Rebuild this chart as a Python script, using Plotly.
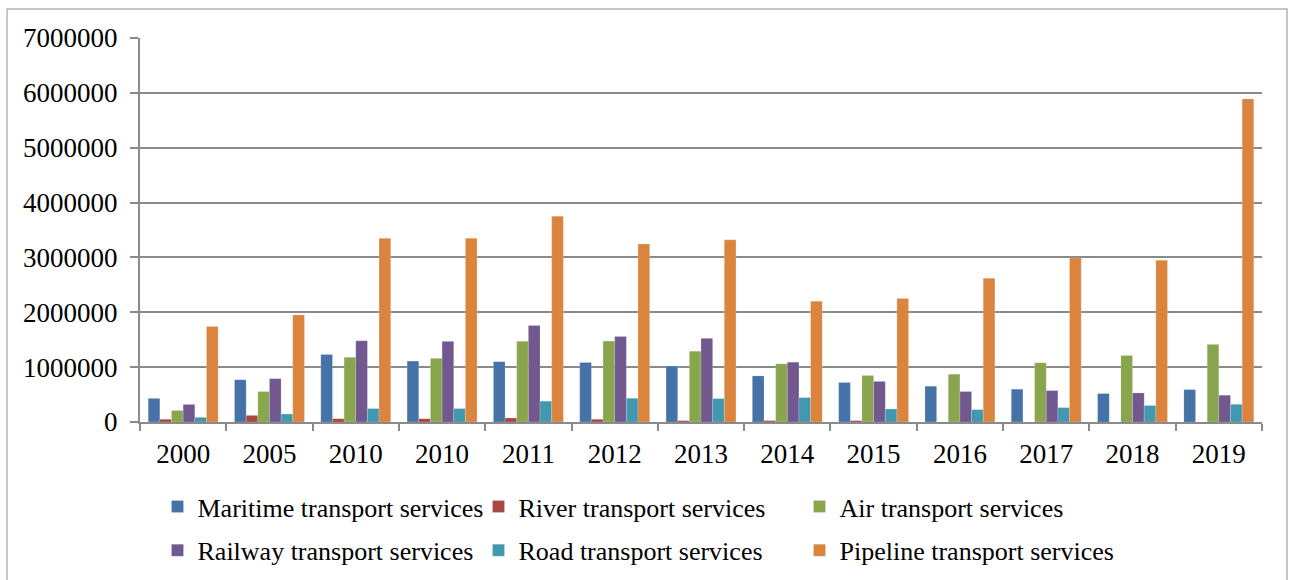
import plotly.graph_objects as go

# Years along the category axis (2010 appears twice in the source table)
years = ["2000", "2005", "2010", "2010", "2011", "2012", "2013",
         "2014", "2015", "2016", "2017", "2018", "2019"]

maritime = [430000, 770000, 1230000, 1110000, 1100000, 1085000, 1020000,
            840000, 720000, 652000, 598000, 518000, 591000]
river = [50000, 120000, 60000, 60000, 73000, 50000, 25000,
         25000, 25000, 0, 0, 0, 0]
air = [210000, 555000, 1180000, 1160000, 1470000, 1475000, 1290000,
       1060000, 848000, 872000, 1080000, 1213000, 1415000]
railway = [320000, 790000, 1480000, 1470000, 1760000, 1560000, 1525000,
           1090000, 740000, 555000, 573000, 530000, 488000]
road = [85000, 146000, 245000, 245000, 380000, 433000, 427000,
        445000, 238000, 226000, 262000, 300000, 323000]
pipeline = [1740000, 1950000, 3350000, 3350000, 3750000, 3244000, 3320000,
            2200000, 2250000, 2620000, 2990000, 2950000, 5890000]

series_names = ["Maritime transport services", "River transport services",
                "Air transport services", "Railway transport services",
                "Road transport services", "Pipeline transport services"]
series_values = [maritime, river, air, railway, road, pipeline]
series_colors = ["#4572A7", "#AA4643", "#89A54E", "#71588F", "#4198AF", "#DB843D"]
# first row of the legend holds the first three series, second row the rest
legend_ids = ["legend", "legend", "legend", "legend2", "legend2", "legend2"]

FONT = "Liberation Serif, Times New Roman, serif"
GRID = "#8a8a8a"

positions = list(range(len(years)))

fig = go.Figure()
for name, vals, color, lg in zip(series_names, series_values, series_colors, legend_ids):
    fig.add_trace(go.Bar(
        x=positions, y=vals, name=name, legend=lg,
        marker=dict(color=color, line=dict(color="rgba(255,255,255,0.35)", width=0.5)),
    ))

legend_common = dict(
    orientation="h", xanchor="left", yanchor="top",
    font=dict(family=FONT, size=26, color="#000000"),
    entrywidth=276, entrywidthmode="pixels", itemwidth=30,
    bgcolor="rgba(0,0,0,0)", traceorder="normal",
)

fig.update_layout(
    width=1291, height=580,
    margin=dict(l=140, r=29, t=38, b=158, autoexpand=False),
    paper_bgcolor="white", plot_bgcolor="white",
    barmode="group", bargap=0.19, bargroupgap=0,
    font=dict(family=FONT, size=26, color="#000000"),
    legend=dict(x=0.0156, y=-0.159, **legend_common),
    legend2=dict(x=0.0156, y=-0.273, **legend_common),
    xaxis=dict(
        range=[-0.5, len(years) - 0.5],
        tickmode="array", tickvals=positions, ticktext=years,
        ticks="", showgrid=False, zeroline=False,
        showline=True, linecolor=GRID, linewidth=2,
        tickfont=dict(family=FONT, size=27),
        ticklabelstandoff=7,
        minor=dict(tick0=-0.5, dtick=1, ticks="outside", ticklen=7,
                   tickwidth=2, tickcolor=GRID, showgrid=False),
    ),
    yaxis=dict(
        range=[0, 7000000], tickmode="linear", tick0=0, dtick=1000000,
        tickformat="d",
        showgrid=True, gridcolor=GRID, gridwidth=2,
        zeroline=False,
        showline=True, linecolor=GRID, linewidth=2,
        ticks="outside", ticklen=8, tickwidth=2, tickcolor=GRID,
        tickfont=dict(family=FONT, size=27),
        ticklabelstandoff=7,
    ),
    shapes=[dict(type="rect", xref="paper", yref="paper",
                 x0=-0.1185, x1=1.0223, y0=-0.5, y1=1.0755,
                 line=dict(color="#b5b5b5", width=1.5))],
)

fig.write_html("out.html")
